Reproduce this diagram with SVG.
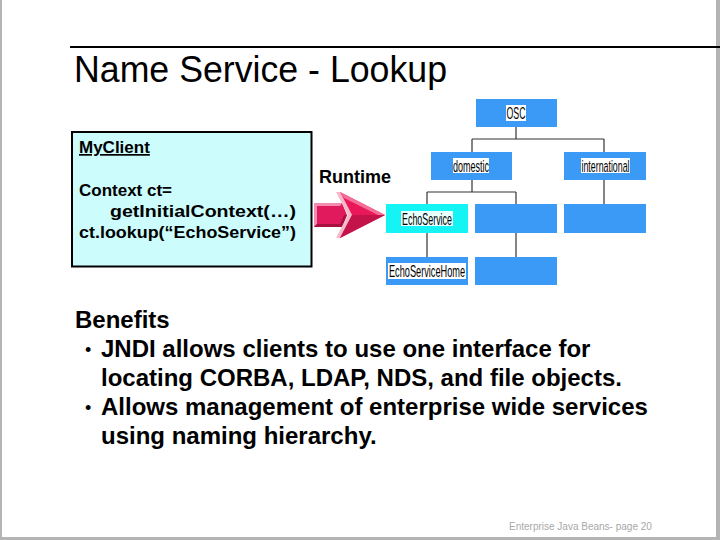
<svg xmlns="http://www.w3.org/2000/svg" width="720" height="540" viewBox="0 0 720 540">
<style>
.bold{font-family:"Liberation Sans",Arial,sans-serif;font-weight:bold;fill:#000}
.node{fill:#3a9af5}
.lbl{font-family:"Liberation Sans",Arial,sans-serif;font-size:17px;fill:#000}
.lblbg{fill:#fff}
.conn line{stroke:#333;stroke-width:1.2}
.bul{font-family:"Liberation Sans",Arial,sans-serif;font-size:18px;fill:#000}
</style>
<rect x="0" y="0" width="720" height="540" fill="#fff"/>
<g id="frame" fill="#b4b4b4">
<rect x="0" y="0" width="2" height="540"/>
<rect x="716" y="0" width="4" height="540"/>
<rect x="0" y="537" width="720" height="3"/>
</g>
<g id="title">
<line x1="70" y1="47" x2="720" y2="47" stroke="#000" stroke-width="2"/>
<text x="74" y="82" font-family="'Liberation Sans',Arial,sans-serif" font-size="36" textLength="373" lengthAdjust="spacingAndGlyphs">Name Service - Lookup</text>
</g>
<g id="client">
<rect x="72" y="132" width="239.5" height="134.5" fill="#ccfcfc" stroke="#000" stroke-width="2"/>
<text class="bold" x="79" y="153" font-size="17" text-decoration="underline">MyClient</text>
<text class="bold" x="79" y="196" font-size="17">Context ct=</text>
<text class="bold" x="110" y="217" font-size="17" textLength="186" lengthAdjust="spacingAndGlyphs">getInitialContext(…)</text>
<text class="bold" x="79" y="238" font-size="17" textLength="217" lengthAdjust="spacingAndGlyphs">ct.lookup(“EchoService”)</text>
</g>
<g id="runtime">
<text class="bold" x="319" y="183" font-size="18">Runtime</text>
</g>
<g id="arrow">
<polygon points="314,203 342,203 347,215 342,227 314,227" fill="#e01a5c"/>
<polygon points="314,203 342,203 340,206 317,206 317,224 314,227" fill="#f48cb0"/>
<polygon points="314,227 342,227 347,215 344,215 340,224 317,224" fill="#a8123f"/>
<polygon points="336,192 340,192 352,215 340,238 336,238 348,215" fill="#f8b8cc"/>
<polygon points="340,192 385,215 340,238 352,215" fill="#e8185a"/>
<polygon points="352,215 385,215 340,238" fill="#c4124a"/>
<polygon points="340,192 385,215 378,215 344,198" fill="#f36f98"/>
</g>
<g class="conn" id="connectors">
<line x1="516" y1="127" x2="516" y2="139"/>
<line x1="472" y1="139" x2="604" y2="139"/>
<line x1="472" y1="139" x2="472" y2="152"/>
<line x1="604" y1="139" x2="604" y2="152"/>
<line x1="472" y1="180" x2="472" y2="192"/>
<line x1="427" y1="192" x2="516" y2="192"/>
<line x1="427" y1="192" x2="427" y2="204"/>
<line x1="516" y1="192" x2="516" y2="204"/>
<line x1="604" y1="180" x2="604" y2="204"/>
<line x1="427" y1="233" x2="427" y2="257"/>
<line x1="516" y1="233" x2="516" y2="257"/>
</g>
<g id="osc">
<rect class="node" x="476" y="99" width="81" height="28"/>
<rect class="lblbg" x="506" y="105" width="20" height="16"/>
<text class="lbl" x="516" y="118.5" text-anchor="middle" textLength="19" lengthAdjust="spacingAndGlyphs">OSC</text>
</g>
<g id="domestic">
<rect class="node" x="431" y="152" width="81" height="28"/>
<rect class="lblbg" x="453" y="158" width="36" height="15"/>
<text class="lbl" x="471" y="171.5" text-anchor="middle" textLength="36" lengthAdjust="spacingAndGlyphs">domestic</text>
</g>
<g id="international">
<rect class="node" x="564" y="152" width="82" height="28"/>
<rect class="lblbg" x="581" y="158" width="49" height="15"/>
<text class="lbl" x="605.5" y="171.5" text-anchor="middle" textLength="48" lengthAdjust="spacingAndGlyphs">international</text>
</g>
<g id="echoservice">
<rect x="386" y="204" width="82" height="29" fill="#14f4f4"/>
<rect x="401" y="211" width="52" height="15" fill="#e8ffff"/>
<text class="lbl" x="427" y="224.5" text-anchor="middle" textLength="50" lengthAdjust="spacingAndGlyphs">EchoService</text>
</g>
<g id="blank-mid">
<rect class="node" x="475" y="204" width="82" height="29"/>
</g>
<g id="blank-right">
<rect class="node" x="564" y="204" width="82" height="29"/>
</g>
<g id="echoservicehome">
<rect class="node" x="386" y="257" width="82" height="28"/>
<rect class="lblbg" x="388" y="263" width="78" height="16"/>
<text class="lbl" x="427" y="277" text-anchor="middle" textLength="76" lengthAdjust="spacingAndGlyphs">EchoServiceHome</text>
</g>
<g id="blank-bottom">
<rect class="node" x="475" y="257" width="82" height="28"/>
</g>
<g id="benefits">
<text class="bold" font-size="24" x="75" y="328">Benefits</text>
<text class="bul" x="85" y="356">•</text>
<text class="bold" font-size="24" x="101" y="357">JNDI allows clients to use one interface for</text>
<text class="bold" font-size="24" x="101" y="386">locating CORBA, LDAP, NDS, and file objects.</text>
<text class="bul" x="85" y="414">•</text>
<text class="bold" font-size="24" x="101" y="415">Allows management of enterprise wide services</text>
<text class="bold" font-size="24" x="101" y="444">using naming hierarchy.</text>
</g>
<g id="footer">
<text x="509" y="530" font-family="'Liberation Sans',Arial,sans-serif" font-size="10" fill="#a8a8a8">Enterprise Java Beans- page 20</text>
</g>
</svg>
